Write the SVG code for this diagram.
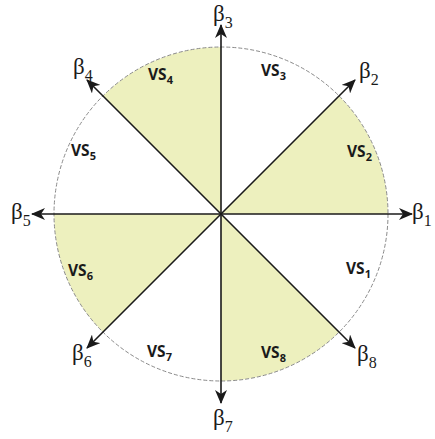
<svg xmlns="http://www.w3.org/2000/svg" width="435" height="439" viewBox="0 0 435 439">
<style>
.sec{fill:#EDF0BE;stroke:none}
.circ{fill:none;stroke:#8a8a8a;stroke-width:1;stroke-dasharray:4 2}
.ax{stroke:#1a1a1a;stroke-width:1.6;fill:none;marker-end:url(#ah)}
.vs{font-family:"Open Sans","Liberation Sans",sans-serif;font-weight:bold;font-size:15.5px;fill:#1a1a1a}
.vs tspan{font-size:11px}
.b{font-family:"Liberation Serif","DejaVu Serif",serif;font-size:23px;fill:#1a1a1a}
.b tspan{font-size:16px}
</style>
<defs>
<marker id="ah" viewBox="0 0 14 12" refX="13" refY="6" markerWidth="14" markerHeight="12" markerUnits="userSpaceOnUse" orient="auto">
<path d="M0,0 L14,6 L0,12 L4,6 z" fill="#1a1a1a"/>
</marker>
</defs>
<g id="sectors">
<path class="sec" d="M221,214 L388,214 A167,167 0 0 0 339.1,95.9 Z"/>
<path class="sec" d="M221,214 L221,47 A167,167 0 0 0 102.9,95.9 Z"/>
<path class="sec" d="M221,214 L54,214 A167,167 0 0 0 102.9,332.1 Z"/>
<path class="sec" d="M221,214 L221,381 A167,167 0 0 0 339.1,332.1 Z"/>
</g>
<g id="circle">
<circle class="circ" cx="221" cy="214" r="167"/>
</g>
<g id="connectors">
<line class="ax" x1="221" y1="214" x2="412" y2="214"/>
<line class="ax" x1="221" y1="214" x2="355" y2="80"/>
<line class="ax" x1="221" y1="214" x2="221" y2="25"/>
<line class="ax" x1="221" y1="214" x2="87" y2="80"/>
<line class="ax" x1="221" y1="214" x2="32" y2="214"/>
<line class="ax" x1="221" y1="214" x2="87" y2="348"/>
<line class="ax" x1="221" y1="214" x2="221" y2="403"/>
<line class="ax" x1="221" y1="214" x2="355" y2="348"/>
</g>
<g id="beta1"><text class="b" x="412" y="219">β<tspan dy="7">1</tspan></text></g>
<g id="beta2"><text class="b" x="359" y="78">β<tspan dy="7">2</tspan></text></g>
<g id="beta3"><text class="b" x="213" y="21">β<tspan dy="7">3</tspan></text></g>
<g id="beta4"><text class="b" x="73" y="74">β<tspan dy="7">4</tspan></text></g>
<g id="beta5"><text class="b" x="11" y="219">β<tspan dy="7">5</tspan></text></g>
<g id="beta6"><text class="b" x="72" y="360">β<tspan dy="7">6</tspan></text></g>
<g id="beta7"><text class="b" x="213" y="425">β<tspan dy="7">7</tspan></text></g>
<g id="beta8"><text class="b" x="357" y="361">β<tspan dy="7">8</tspan></text></g>
<g id="vs1"><text class="vs" x="346" y="274">VS<tspan dy="4">1</tspan></text></g>
<g id="vs2"><text class="vs" x="347" y="157">VS<tspan dy="4">2</tspan></text></g>
<g id="vs3"><text class="vs" x="261" y="76">VS<tspan dy="4">3</tspan></text></g>
<g id="vs4"><text class="vs" x="148" y="80">VS<tspan dy="4">4</tspan></text></g>
<g id="vs5"><text class="vs" x="71" y="156">VS<tspan dy="4">5</tspan></text></g>
<g id="vs6"><text class="vs" x="68" y="276">VS<tspan dy="4">6</tspan></text></g>
<g id="vs7"><text class="vs" x="147" y="357">VS<tspan dy="4">7</tspan></text></g>
<g id="vs8"><text class="vs" x="261" y="358">VS<tspan dy="4">8</tspan></text></g>
</svg>
